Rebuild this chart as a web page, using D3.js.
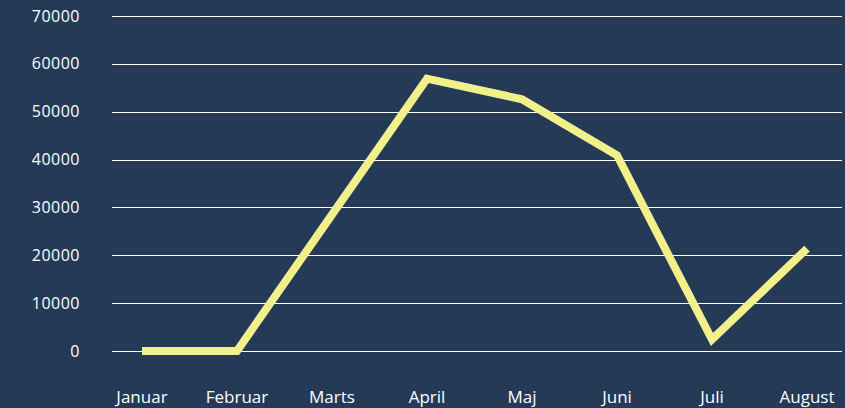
<meta charset="utf-8">
<html>
<script src="https://cdn.jsdelivr.net/npm/d3@7"></script>
<style>
body { margin: 0; background: #243a56; font-family: "Open Sans", "Lato", sans-serif; }
svg { display: block; }
</style>
<body>
<svg id="chart" width="845" height="408"></svg>
<script type="text/javascript">

// data
var months = ["Januar", "Februar", "Marts", "April", "Maj", "Juni", "Juli", "August"];
var values = [0, 0, 28500, 56900, 52600, 40900, 2400, 21400];
var yTicks = [0, 10000, 20000, 30000, 40000, 50000, 60000, 70000];

var svg = d3.select('#chart');

var x = d3.scalePoint().domain(months).range([142, 807]);
var y = d3.scaleLinear().domain([0, 70000]).range([351, 16]);

svg.append('rect').attr('width', 845).attr('height', 408).attr('fill', '#243a56');

// gridlines
svg.append('g')
	.selectAll('line')
	.data(yTicks)
	.enter()
	.append('line')
	.attr('x1', 112)
	.attr('x2', 842)
	.attr('y1', function(d) { return Math.round(y(d)) + 0.5; })
	.attr('y2', function(d) { return Math.round(y(d)) + 0.5; })
	.attr('stroke', '#ffffff')
	.attr('stroke-width', 1);

// y labels
svg.append('g')
	.selectAll('text')
	.data(yTicks)
	.enter()
	.append('text')
	.attr('x', 80)
	.attr('y', function(d) { return y(d); })
	.attr('dy', '0.35em')
	.attr('text-anchor', 'end')
	.attr('fill', '#ffffff')
	.style('font-size', '16px')
	.style('letter-spacing', '0.5px')
	.text(function(d) { return d; });

// x labels
svg.append('g')
	.selectAll('text')
	.data(months)
	.enter()
	.append('text')
	.attr('x', function(d) { return x(d); })
	.attr('y', 403)
	.attr('text-anchor', 'middle')
	.attr('fill', '#ffffff')
	.style('font-size', '17px')
	.text(function(d) { return d; });

var line = d3.line()
	.x(function(d, i) { return x(months[i]); })
	.y(function(d) { return y(d); });

svg.append('path')
	.datum(values)
	.attr('d', line)
	.attr('fill', 'none')
	.attr('stroke', '#f2f08a')
	.attr('stroke-width', 8)
	.attr('stroke-linejoin', 'miter');

</script>
</body>
</html>
